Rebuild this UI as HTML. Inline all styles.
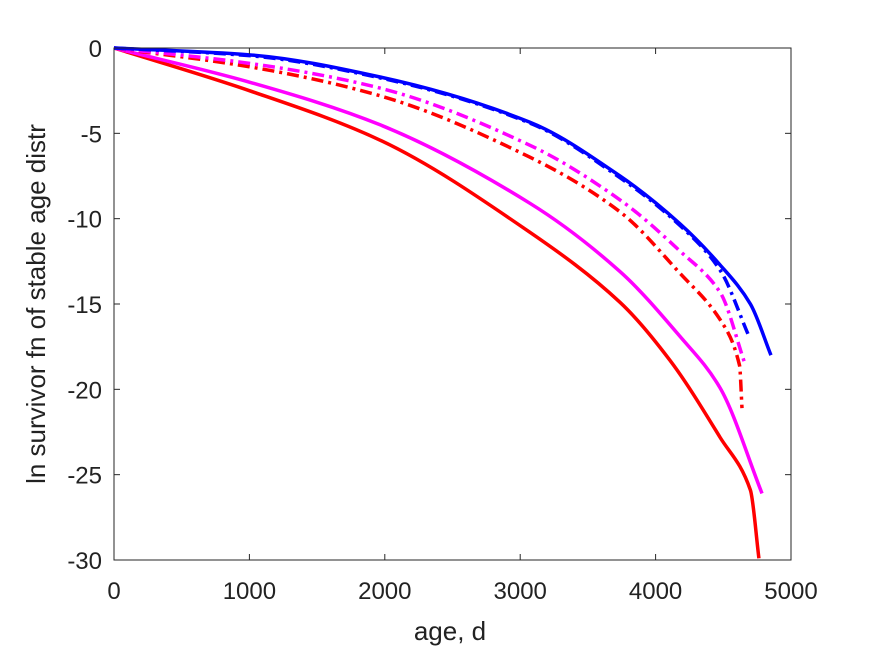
<!DOCTYPE html>
<html><head><meta charset="utf-8"><style>
body{margin:0;background:#fff;}
svg{display:block;font-family:"Liberation Sans",Arial,sans-serif;}
</style></head><body>
<svg id="chart" width="875" height="656">
<rect x="0" y="0" width="875" height="656" fill="#fff"/>
<g id="series"></g>
<g id="axes"></g>
<text x="450" y="640" font-size="26" text-anchor="middle" fill="#222">age, d</text>
<text transform="translate(45,304) rotate(-90)" font-size="26" text-anchor="middle" fill="#222">ln survivor fn of stable age distr</text>
</svg>
<script>
const xTicks=[0,1000,2000,3000,4000,5000];
const yTicks=[0,-5,-10,-15,-20,-25,-30];
const xRedSolid=[0,1000,1965,3072,3737,4106,4475,4700,4763];
const yRedSolid=[0,-2.5,-5.4,-10.8,-14.9,-18.3,-22.8,-25.9,-29.9];
const xMagSolid=[0,1000,1965,3072,3737,4180,4475,4786];
const yMagSolid=[0,-2.0,-4.5,-9.1,-13.1,-16.9,-19.9,-26.1];
const xRedDD=[0,1000,1965,3072,3737,4180,4475,4620,4638];
const yRedDD=[0,-1.1,-2.8,-6.4,-9.6,-13.2,-15.9,-18.6,-21.1];
const xMagDD=[0,1000,1965,3072,3737,4180,4475,4660];
const yMagDD=[0,-0.9,-2.35,-5.7,-8.9,-11.9,-14.3,-18.5];
const xBlueDD=[0,1000,1965,3072,3737,4180,4475,4690];
const yBlueDD=[0,-0.45,-1.75,-4.4,-7.6,-10.4,-13.0,-16.9];
const xBlueSolid=[0,1000,1965,3072,3737,4180,4475,4700,4852];
const yBlueSolid=[0,-0.4,-1.7,-4.35,-7.5,-10.3,-12.7,-15.0,-18.0];

const X0=114,X1=791,Y0=48,Y1=560;
const sx=v=>X0+(v-0)/(5000-0)*(X1-X0);
const sy=v=>Y0+(0-v)/(0-(-30))*(Y1-Y0);
const NS='http://www.w3.org/2000/svg';
const axes=document.getElementById('axes');
const seriesG=document.getElementById('series');

function pathFrom(xs,ys){
  const p=xs.map((x,i)=>[sx(x),sy(ys[i])]);
  const n=p.length;
  // monotone-ish tangents (Fritsch-Carlson on x param)
  const m=[];
  for(let i=0;i<n;i++){
    if(i===0) m.push((p[1][1]-p[0][1])/(p[1][0]-p[0][0]||1e-6));
    else if(i===n-1) m.push((p[i][1]-p[i-1][1])/(p[i][0]-p[i-1][0]||1e-6));
    else{
      const d0=(p[i][1]-p[i-1][1])/(p[i][0]-p[i-1][0]);
      const d1=(p[i+1][1]-p[i][1])/(p[i+1][0]-p[i][0]);
      m.push(2/(1/d0+1/d1));
    }
  }
  let d='M'+p[0][0]+','+p[0][1];
  for(let i=0;i<n-1;i++){
    const h=(p[i+1][0]-p[i][0])/3;
    d+=` C${p[i][0]+h},${p[i][1]+m[i]*h} ${p[i+1][0]-h},${p[i+1][1]-m[i+1]*h} ${p[i+1][0]},${p[i+1][1]}`;
  }
  return d;
}
function addSeries(xs,ys,color,dash,name){
  const el=document.createElementNS(NS,'path');
  el.setAttribute('d',pathFrom(xs,ys));
  el.setAttribute('fill','none');
  el.setAttribute('stroke',color);
  el.setAttribute('stroke-width','3.5');
  if(dash) el.setAttribute('stroke-dasharray',dash);
  
  
  seriesG.appendChild(el);
}
addSeries(xRedSolid,yRedSolid,'#ff0000',null,'red-solid-line');
addSeries(xMagSolid,yMagSolid,'#ff00ff',null,'magenta-solid-line');
addSeries(xRedDD,yRedDD,'#ff0000','12,5,3,5','red-dashdot-line');
addSeries(xMagDD,yMagDD,'#ff00ff','12,5,3,5','magenta-dashdot-line');
addSeries(xBlueDD,yBlueDD,'#0000ff','12,5,3,5','blue-dashdot-line');
addSeries(xBlueSolid,yBlueSolid,'#0000ff',null,'blue-solid-line');

const box=document.createElementNS(NS,'rect');
box.setAttribute('x',X0);box.setAttribute('y',Y0);
box.setAttribute('width',X1-X0);box.setAttribute('height',Y1-Y0);
box.setAttribute('fill','none');box.setAttribute('stroke','#262626');box.setAttribute('stroke-width','1');


axes.appendChild(box);

xTicks.forEach(t=>{
  const x=sx(t);
  [[Y1,Y1-6],[Y0,Y0+6]].forEach(([a,b])=>{
    const l=document.createElementNS(NS,'line');
    l.setAttribute('x1',x);l.setAttribute('x2',x);l.setAttribute('y1',a);l.setAttribute('y2',b);
    l.setAttribute('stroke','#262626');
    
    
    axes.appendChild(l);
  });
  const tx=document.createElementNS(NS,'text');
  tx.setAttribute('x',x);tx.setAttribute('y',Y1+39);
  tx.setAttribute('font-size','24');tx.setAttribute('text-anchor','middle');tx.setAttribute('fill','#222');
  tx.textContent=t;
  
  
  axes.appendChild(tx);
});
yTicks.forEach(t=>{
  const y=sy(t);
  [[X0,X0+6],[X1,X1-6]].forEach(([a,b])=>{
    const l=document.createElementNS(NS,'line');
    l.setAttribute('x1',a);l.setAttribute('x2',b);l.setAttribute('y1',y);l.setAttribute('y2',y);
    l.setAttribute('stroke','#262626');
    
    
    axes.appendChild(l);
  });
  const tx=document.createElementNS(NS,'text');
  tx.setAttribute('x',X0-12);tx.setAttribute('y',y+9);
  tx.setAttribute('font-size','24');tx.setAttribute('text-anchor','end');tx.setAttribute('fill','#222');
  tx.textContent=t;
  
  
  axes.appendChild(tx);
});
</script>
</body></html>
